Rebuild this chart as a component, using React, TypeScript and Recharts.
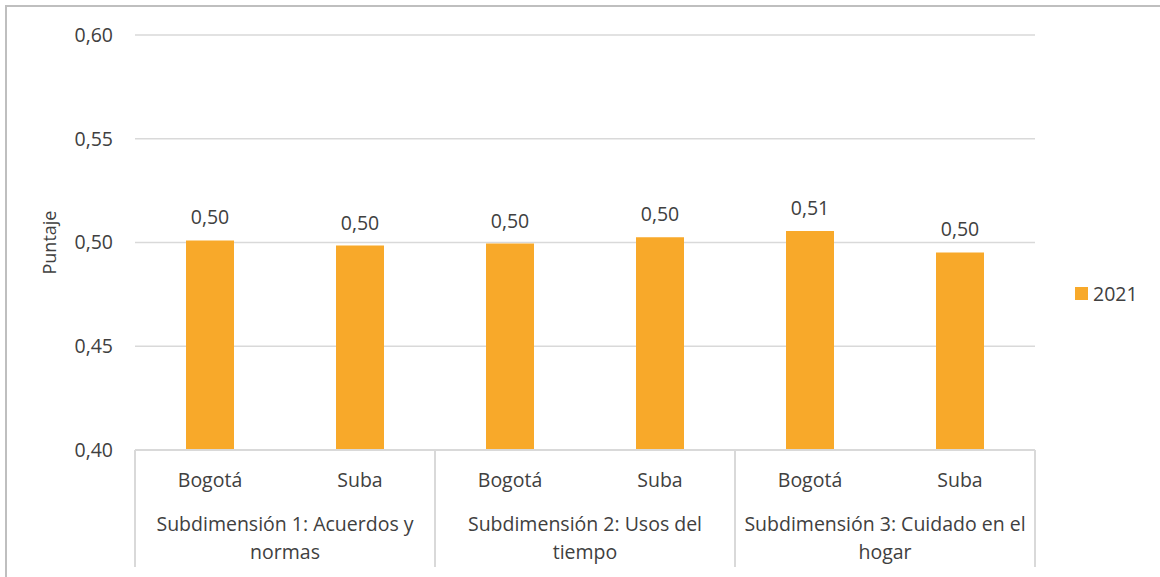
import React from "react";
import { BarChart, Bar, XAxis, YAxis, CartesianGrid, LabelList } from "recharts";

const places = ["Bogotá", "Suba", "Bogotá", "Suba", "Bogotá", "Suba"];
const groups = [
  ["Subdimensión 1: Acuerdos y", "normas"],
  ["Subdimensión 2: Usos del", "tiempo"],
  ["Subdimensión 3: Cuidado en el", "hogar"],
];
const scores2021 = [0.501, 0.4985, 0.4995, 0.5025, 0.5055, 0.4952];
const yTicks = [0.4, 0.45, 0.5, 0.55, 0.6];

const data = places.map((p, i) => ({ place: p, v2021: scores2021[i] }));

const FONT = "'Open Sans', sans-serif";
const TEXT = "#404040";
const GRID = "#d9d9d9";
const BAR = "#f8a92a";
const FS = 19.5;

const fmt = (v: number) => v.toFixed(2).replace(".", ",");

const GroupTick = (props: any) => {
  const { x, y, payload, index } = props;
  const half = payload.offset || 75;
  const isFirst = index % 2 === 0;
  const g = groups[Math.floor(index / 2)];
  return (
    <g>
      <text x={x} y={y + 37} textAnchor="middle" fill={TEXT} fontSize={FS} fontFamily={FONT}>
        {payload.value}
      </text>
      {isFirst && (
        <>
          <line x1={x - half} x2={x - half} y1={y} y2={y + 117} stroke={GRID} strokeWidth={2} />
          <text x={x + half} y={y + 81} textAnchor="middle" fill={TEXT} fontSize={FS} fontFamily={FONT}>
            {g[0]}
          </text>
          <text x={x + half} y={y + 109} textAnchor="middle" fill={TEXT} fontSize={FS} fontFamily={FONT}>
            {g[1]}
          </text>
        </>
      )}
      {index === places.length - 1 && (
        <line x1={x + half} x2={x + half} y1={y} y2={y + 117} stroke={GRID} strokeWidth={2} />
      )}
    </g>
  );
};

export default function App() {
  return (
    <div style={{ position: "absolute", left: 0, top: 0, width: 1160, height: 577, background: "#fff" }}>
      <div
        style={{
          position: "absolute",
          left: 5,
          top: 5,
          width: 1155,
          height: 572,
          borderLeft: "2px solid #bfbfbf",
          borderTop: "2px solid #bfbfbf",
          boxSizing: "border-box",
        }}
      />
      <BarChart
        width={1160}
        height={577}
        data={data}
        margin={{ top: 35, right: 125, bottom: 0, left: 0 }}
        style={{ position: "absolute", left: 0, top: 0 }}
      >
        <CartesianGrid vertical={false} stroke={GRID} strokeWidth={1.5} />
        <XAxis
          dataKey="place"
          height={127}
          axisLine={{ stroke: GRID, strokeWidth: 2 }}
          tickLine={false}
          tickSize={0}
          tickMargin={0}
          interval={0}
          tick={<GroupTick />}
        />
        <YAxis
          width={135}
          domain={[0.4, 0.6]}
          ticks={yTicks}
          tickFormatter={fmt}
          axisLine={false}
          tickLine={false}
          tickSize={0}
          tickMargin={22}
          tick={{ fill: TEXT, fontSize: FS, fontFamily: FONT }}
          label={{
            value: "Puntaje",
            angle: -90,
            position: "insideLeft",
            offset: 50,
            style: { fill: TEXT, fontSize: 18, fontFamily: FONT, textAnchor: "middle" },
          }}
        />
        <Bar dataKey="v2021" fill={BAR} barSize={48} isAnimationActive={false}>
          <LabelList
            dataKey="v2021"
            position="top"
            offset={16}
            formatter={(v: any) => fmt(Number(v))}
            style={{ fill: TEXT, fontSize: FS, fontFamily: FONT }}
          />
        </Bar>
      </BarChart>
      <div
        style={{
          position: "absolute",
          left: 1075,
          top: 280,
          display: "flex",
          alignItems: "center",
          fontFamily: FONT,
          fontSize: FS,
          color: TEXT,
        }}
      >
        <span style={{ width: 13, height: 13, background: BAR, display: "inline-block", marginRight: 5 }} />
        2021
      </div>
    </div>
  );
}
